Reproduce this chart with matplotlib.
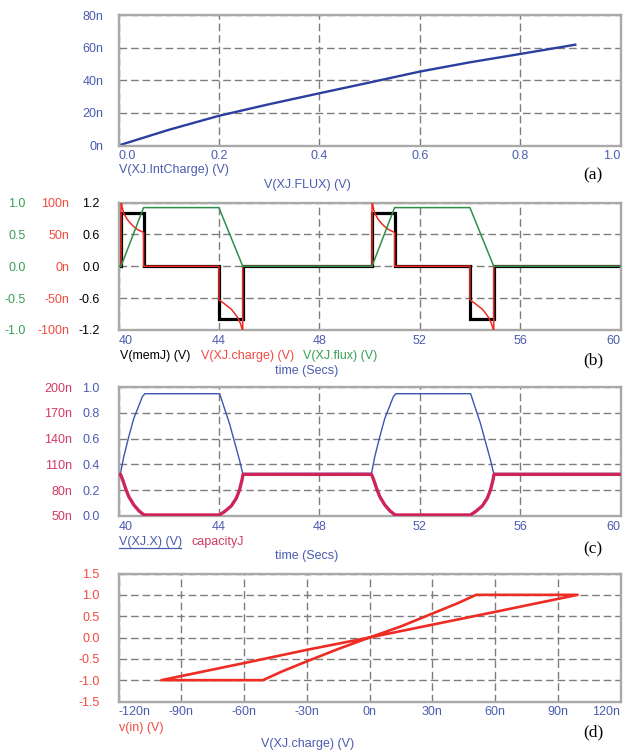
import matplotlib
matplotlib.use('Agg')
import matplotlib.pyplot as plt
from matplotlib.lines import Line2D

plt.rcParams['font.family'] = ['Liberation Sans', 'DejaVu Sans']

# ---------------- data ----------------
# (a) charge vs flux
flux_a = [0.0, 0.1, 0.2, 0.3, 0.4, 0.5, 0.6, 0.7, 0.8, 0.91]
intcharge_a = [0.0, 9.6, 18.2, 25.3, 32.0, 38.6, 45.3, 51.0, 56.1, 61.8]  # n

# (b) time series
t_mem = [40.0, 40.1, 40.1, 41.0, 41.0, 44.0, 44.0, 44.95, 44.95,
         50.1, 50.1, 51.0, 51.0, 54.0, 54.0, 54.95, 54.95, 60.0]
v_mem = [0, 0, 1.0, 1.0, 0, 0, -1.0, -1.0, 0,
         0, 1.0, 1.0, 0, 0, -1.0, -1.0, 0, 0]

t_charge = [40.0, 40.1, 40.1, 40.15, 40.21, 40.35, 40.48, 40.61, 40.75, 40.88, 41.0, 41.0,
            44.0, 44.0, 44.1, 44.22, 44.35, 44.49, 44.62, 44.76, 44.86, 44.95, 44.95,
            50.1, 50.1, 50.15, 50.21, 50.35, 50.48, 50.61, 50.75, 50.88, 51.0, 51.0,
            54.0, 54.0, 54.1, 54.22, 54.35, 54.49, 54.62, 54.76, 54.86, 54.95, 54.95, 60.0]
charge = [0, 0, 104, 92, 83, 73.4, 67.2, 62, 57.8, 55.2, 53.1, 0,
          0, -52.6, -55.5, -58.9, -63, -67.2, -73.5, -81.3, -90, -102, 0,
          0, 104, 92, 83, 73.4, 67.2, 62, 57.8, 55.2, 53.1, 0,
          0, -52.6, -55.5, -58.9, -63, -67.2, -73.5, -81.3, -90, -102, 0, 0]  # n

t_flux = [40.0, 40.1, 41.0, 44.0, 44.95, 50.1, 51.0, 54.0, 54.95, 60.0]
flux_b = [0, 0, 0.92, 0.92, 0, 0, 0.92, 0.92, 0, 0]

# (c) state and capacity
t_x = [40.0, 40.08, 40.21, 40.41, 40.61, 40.82, 40.95, 41.05, 44.03, 44.22, 44.42, 44.62, 44.82, 44.93, 44.96,
       50.08, 50.21, 50.41, 50.61, 50.82, 50.95, 51.05, 54.03, 54.22, 54.42, 54.62, 54.82, 54.93, 54.96, 60.0]
x_state = [0.33, 0.331, 0.46, 0.615, 0.757, 0.86, 0.925, 0.948, 0.948, 0.835, 0.718, 0.576, 0.434, 0.344, 0.33,
           0.331, 0.46, 0.615, 0.757, 0.86, 0.925, 0.948, 0.948, 0.835, 0.718, 0.576, 0.434, 0.344, 0.33, 0.33]

t_cap = [40.0, 40.08, 40.17, 40.28, 40.41, 40.61, 40.82, 41.02, 44.02, 44.22, 44.49, 44.69, 44.82, 44.92, 44.96,
         50.08, 50.17, 50.28, 50.41, 50.61, 50.82, 51.02, 54.02, 54.22, 54.49, 54.69, 54.82, 54.92, 54.96, 60.0]
capacity = [98.4, 98.4, 91.9, 82.2, 72.5, 62.8, 55.8, 51.2, 51.2, 55.0, 61.6, 70.5, 80.2, 91.9, 98.4,
            98.4, 91.9, 82.2, 72.5, 62.8, 55.8, 51.2, 51.2, 55.0, 61.6, 70.5, 80.2, 91.9, 98.4, 98.4]  # n

# (d) hysteresis loop
q_loop = [0, 30, 60, 99.5, 51, 42, 30, 15, 0, -15, -30, -42, -51, -99.5, -60, -30, 0]  # n
vin_loop = [0, 0.3, 0.6, 1.0, 1.0, 0.8, 0.56, 0.26, 0, -0.27, -0.56, -0.8, -1.0, -1.0, -0.6, -0.29, 0]

# tick labels
a_xticks = [0.0, 0.2, 0.4, 0.6, 0.8, 1.0]
a_yticks = [0, 20, 40, 60, 80]
t_ticks = [40, 44, 48, 52, 56, 60]
b_black_ticks = [-1.2, -0.6, 0.0, 0.6, 1.2]
b_red_ticks = [-100, -50, 0, 50, 100]
b_green_ticks = [-1.0, -0.5, 0.0, 0.5, 1.0]
c_blue_ticks = [0.0, 0.2, 0.4, 0.6, 0.8, 1.0]
c_pink_ticks = [50, 80, 110, 140, 170, 200]
d_xticks = [-120, -90, -60, -30, 0, 30, 60, 90, 120]
d_yticks = [-1.5, -1.0, -0.5, 0.0, 0.5, 1.0, 1.5]

# ---------------- style ----------------
W, H = 630, 752
fig = plt.figure(figsize=(6.3, 7.52), dpi=100)

BLUE_T = '#4a5cb0'
BLUE_L = '#2b3f9e'
BLUE_C = '#3a56b4'
RED = '#ee2c24'
RED_T = '#f04a40'
GREEN = '#2e8f4a'
GREEN_T = '#39a055'
PINK = '#cf2458'
PINK_T = '#d23a66'
FS = 9

L, R = 118.5, 620.5


def ax_at(top, bottom):
    return fig.add_axes([L / W, 1 - bottom / H, (R - L) / W, (bottom - top) / H])


def style(ax):
    for s in ax.spines.values():
        s.set_color('#a9a9a9')
        s.set_linewidth(1.7)
    ax.grid(True, color='#7d7d7d', linestyle=(0, (5.5, 2.8)), linewidth=1.0)
    ax.set_axisbelow(True)
    ax.tick_params(length=0, labelsize=FS)
    ax.tick_params(axis='x', colors=BLUE_T, pad=3.5)


def xlabels_edges(ax):
    labs = ax.get_xticklabels()
    labs[0].set_ha('left')
    labs[-1].set_ha('right')


def fmt(v, d=1):
    return ('%.' + str(d) + 'f') % v


def ftext(x, y, s, **kw):
    kw.setdefault('fontsize', FS)
    kw.setdefault('va', 'center')
    fig.text(x / W, 1 - y / H, s, **kw)


def left_twin(ax, pad):
    tw = ax.twinx()
    tw.yaxis.set_ticks_position('left')
    tw.tick_params(axis='y', left=True, labelleft=True, right=False, labelright=False,
                   length=0, pad=pad, labelsize=FS)
    for s in tw.spines.values():
        s.set_visible(False)
    return tw


# ---------------- (a) ----------------
axa = ax_at(15, 145.5)
style(axa)
axa.plot(flux_a, [v * 1e-9 for v in intcharge_a], color=BLUE_L, lw=1.7)
axa.set_xlim(0, 1.0)
axa.set_ylim(0, 80e-9)
axa.set_xticks(a_xticks, labels=[fmt(v) for v in a_xticks])
axa.set_yticks([v * 1e-9 for v in a_yticks], labels=['%dn' % v for v in a_yticks])
axa.tick_params(axis='y', colors=BLUE_T, pad=11)
xlabels_edges(axa)
ftext(119, 170.5, 'V(XJ.IntCharge) (V)', color=BLUE_T)
ftext(307.5, 185, 'V(XJ.FLUX) (V)', color=BLUE_T, ha='center')
ftext(593, 175, '(a)', ha='center', family='Liberation Serif', fontsize=12.5)

# ---------------- (b) ----------------
axb = ax_at(202.5, 330)
style(axb)
axb.plot(t_mem, v_mem, color='black', lw=2.3, solid_joinstyle='miter')
axb.set_xlim(40, 60)
axb.set_ylim(-1.2, 1.2)
axb.set_xticks(t_ticks, labels=[str(v) for v in t_ticks])
axb.set_yticks(b_black_ticks, labels=[fmt(v) for v in b_black_ticks])
axb.tick_params(axis='y', colors='black', pad=13.5)
xlabels_edges(axb)

axb_r = left_twin(axb, 35.5)
axb_r.plot(t_charge, [v * 1e-9 for v in charge], color=RED, lw=1.1)
axb_r.set_ylim(-100e-9, 100e-9)
axb_r.set_yticks([v * 1e-9 for v in b_red_ticks], labels=['%dn' % v for v in b_red_ticks])
axb_r.tick_params(axis='y', colors=RED_T)

axb_g = left_twin(axb, 67)
axb_g.plot(t_flux, flux_b, color=GREEN, lw=1.1)
axb_g.set_ylim(-1.0, 1.0)
axb_g.set_yticks(b_green_ticks, labels=[fmt(v) for v in b_green_ticks])
axb_g.tick_params(axis='y', colors=GREEN_T)

ftext(119.5, 356.5, 'V(memJ) (V)', color='black')
ftext(200.7, 356.5, 'V(XJ.charge) (V)', color=RED_T)
ftext(303, 356.5, 'V(XJ.flux) (V)', color=GREEN_T)
ftext(307, 371, 'time (Secs)', color=BLUE_T, ha='center')
ftext(593, 360.5, '(b)', ha='center', family='Liberation Serif', fontsize=12.5)

# ---------------- (c) ----------------
axc = ax_at(387, 516)
style(axc)
axc.plot(t_x, x_state, color=BLUE_C, lw=1.0)
axc.set_xlim(40, 60)
axc.set_ylim(0, 1.0)
axc.set_xticks(t_ticks, labels=[str(v) for v in t_ticks])
axc.set_yticks(c_blue_ticks, labels=[fmt(v) for v in c_blue_ticks])
axc.tick_params(axis='y', colors=BLUE_T, pad=13.5)
xlabels_edges(axc)

axc_p = left_twin(axc, 33.5)
axc_p.plot(t_cap, [v * 1e-9 for v in capacity], color=PINK, lw=2.4)
axc_p.set_ylim(50e-9, 200e-9)
axc_p.set_yticks([v * 1e-9 for v in c_pink_ticks], labels=['%dn' % v for v in c_pink_ticks])
axc_p.tick_params(axis='y', colors=PINK_T)

ftext(118.7, 541.5, 'V(XJ.X) (V)', color=BLUE_T)
fig.add_artist(Line2D([118.7 / W, 180.5 / W], [1 - 547.5 / H, 1 - 547.5 / H],
                      color=BLUE_T, lw=0.9))
ftext(191.8, 541.5, 'capacityJ', color=PINK_T)
ftext(307, 556.5, 'time (Secs)', color=BLUE_T, ha='center')
ftext(593, 549.5, '(c)', ha='center', family='Liberation Serif', fontsize=12.5)

# ---------------- (d) ----------------
axd = ax_at(573.5, 701.5)
style(axd)
axd.plot([v * 1e-9 for v in q_loop], vin_loop, color=RED, lw=1.9)
axd.set_xlim(-120e-9, 120e-9)
axd.set_ylim(-1.5, 1.5)
axd.set_xticks([v * 1e-9 for v in d_xticks], labels=['%dn' % v for v in d_xticks])
axd.set_yticks(d_yticks, labels=[fmt(v) for v in d_yticks])
axd.tick_params(axis='y', colors=RED_T, pad=13.5)
xlabels_edges(axd)

ftext(118.7, 727.5, 'v(in) (V)', color=RED_T)
ftext(307.5, 743.5, 'V(XJ.charge) (V)', color=BLUE_T, ha='center')
ftext(593, 732, '(d)', ha='center', family='Liberation Serif', fontsize=12.5)

fig.savefig('out.png', dpi=100)
